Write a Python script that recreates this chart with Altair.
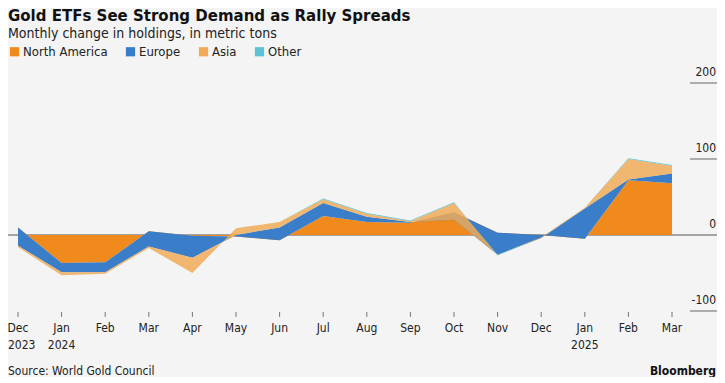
import altair as alt
import pandas as pd

# ---------------- data ----------------
periods = ["2023-12", "2024-01", "2024-02", "2024-03", "2024-04", "2024-05", "2024-06",
           "2024-07", "2024-08", "2024-09", "2024-10", "2024-11", "2024-12",
           "2025-01", "2025-02", "2025-03"]
month_labels = ["Dec", "Jan", "Feb", "Mar", "Apr", "May", "Jun", "Jul", "Aug", "Sep",
                "Oct", "Nov", "Dec", "Jan", "Feb", "Mar"]
year_labels = ["2023", "2024", "", "", "", "", "", "", "", "", "", "", "", "2025", "", ""]

series = ["North America", "Europe", "Asia", "Other"]
colors = ["#F08A1D", "#3A7DC8", "#F0AA58", "#5CC3D6"]

north_america = [10, -37, -36, 5, -1, -2, -7, 25, 17, 16, 30, 3, 0, -5, 72, 68]
europe = [-24, -12, -13, -20, -29, 2, 17, 17, 7, 1, -10, -29, -4, 40, 1, 13]
asia = [-2, -4, -2, -2, -20, 9, 7, 5, 4, 1, 22, 0, 1, 1, 27, 10]
other = [0, 0, 0, 0, 0, 0, 0, 1, 1, 1, 1, -1, 0, 0, 1, 1]

y_ticks = [200, 100, 0, -100]
y_tick_labels = ["200", "100", "0", "-100"]

title_text = "Gold ETFs See Strong Demand as Rally Spreads"
subtitle_text = "Monthly change in holdings, in metric tons"
source_text = "Source: World Gold Council"
brand_text = "Bloomberg"

# ---------------- tables ----------------
values = [north_america, europe, asia, other]
rows = []
for i, p in enumerate(periods):
    lo = 0
    for s, v in zip(series, values):
        hi = lo + v[i]
        rows.append({"period": p, "series": s, "lo": lo, "hi": hi})
        lo = hi
stack_df = pd.DataFrame(rows)

xlab_df = pd.DataFrame({"period": periods, "month": month_labels, "year": year_labels,
                        "idx": list(range(len(periods)))})
ytick_df = pd.DataFrame({"v": y_ticks, "label": y_tick_labels})
foot_df = pd.DataFrame({"a": [0]})

NARROW = "Liberation Sans Narrow, DejaVu Sans Condensed, sans-serif"
COND = "DejaVu Sans Condensed, DejaVu Sans, sans-serif"

x_scale = alt.Scale(type="point", domain=periods, padding=0)
y_scale = alt.Scale(domain=[-100, 200], nice=False, zero=False)

X = alt.X("period:O", scale=x_scale, axis=None)

color_enc = alt.Color(
    "series:N",
    scale=alt.Scale(domain=series, range=colors),
    legend=alt.Legend(
        orient="none", legendX=-10, legendY=-38, direction="horizontal",
        title=None, symbolType="square", symbolSize=85, symbolStrokeWidth=0,
        symbolOpacity=1, labelFont=COND, labelFontSize=13, labelColor="#222",
        columnPadding=16, labelOffset=2,
    ),
)

zero_rule = alt.Chart(ytick_df).transform_filter("datum.v == 0").mark_rule(
    color="#555", strokeWidth=1
).encode(y=alt.Y("v:Q", scale=y_scale, axis=None), x=alt.value(-10), x2=alt.value(699))

areas = []
for s in series:
    op = 0.85 if s == "Asia" else 1.0
    areas.append(
        alt.Chart(stack_df).transform_filter(alt.datum.series == s).mark_area(
            opacity=op, interpolate="linear"
        ).encode(
            x=X,
            y=alt.Y("hi:Q", scale=y_scale, axis=None),
            y2="lo:Q",
            color=color_enc,
        )
    )

ytick_rules = alt.Chart(ytick_df).transform_filter("datum.v != 0").mark_rule(
    color="#666", strokeWidth=1
).encode(y=alt.Y("v:Q", scale=y_scale, axis=None), x=alt.value(672), x2=alt.value(699))

ytick_text = alt.Chart(ytick_df).mark_text(
    align="right", baseline="alphabetic", dy=-7, font=COND, fontSize=12, color="#222"
).encode(y=alt.Y("v:Q", scale=y_scale, axis=None), x=alt.value(698), text="label:N")

xtick_rules = alt.Chart(xlab_df).mark_rule(color="#777", strokeWidth=1).encode(
    x=X, y=alt.value(229), y2=alt.value(234)
)

xmonth = alt.Chart(xlab_df).mark_text(
    baseline="middle", font=NARROW, fontSize=12, color="#222"
).encode(x=X, y=alt.value(245), text="month:N")

xyear_mid = alt.Chart(xlab_df).transform_filter("datum.idx > 0").mark_text(
    baseline="middle", font=NARROW, fontSize=12, color="#222"
).encode(x=X, y=alt.value(262), text="year:N")

xyear_first = alt.Chart(xlab_df).transform_filter("datum.idx == 0").mark_text(
    baseline="middle", align="left", dx=-10, font=NARROW, fontSize=12, color="#222"
).encode(x=X, y=alt.value(262), text="year:N")

source = alt.Chart(foot_df).mark_text(
    text=source_text, align="left", baseline="middle", font=NARROW, fontSize=12, color="#222"
).encode(x=alt.value(-10), y=alt.value(288))

brand = alt.Chart(foot_df).mark_text(
    text=brand_text, align="right", baseline="middle", font=NARROW, fontSize=12,
    fontWeight="bold", color="#111"
).encode(x=alt.value(698), y=alt.value(288))

chart = alt.layer(
    zero_rule, *areas, ytick_rules, ytick_text, xtick_rules, xmonth, xyear_mid, xyear_first,
    source, brand
).properties(
    width=654,
    height=228,
    padding={"left": 10, "top": 75, "right": 45, "bottom": 66},
    autosize=alt.AutoSizeParams(type="none"),
    title=alt.TitleParams(
        text=title_text,
        subtitle=subtitle_text,
        anchor="start",
        frame="group",
        dx=-10,
        offset=4,
        font="DejaVu Sans",
        fontSize=15,
        fontWeight="bold",
        color="#111",
        subtitleFont=COND,
        subtitleFontSize=14,
        subtitleColor="#222",
        subtitlePadding=3,
    ),
).configure(background="#F4F4F4").configure_view(stroke=None)

chart.save("out.html", embed_options={"renderer": "svg", "actions": False})
